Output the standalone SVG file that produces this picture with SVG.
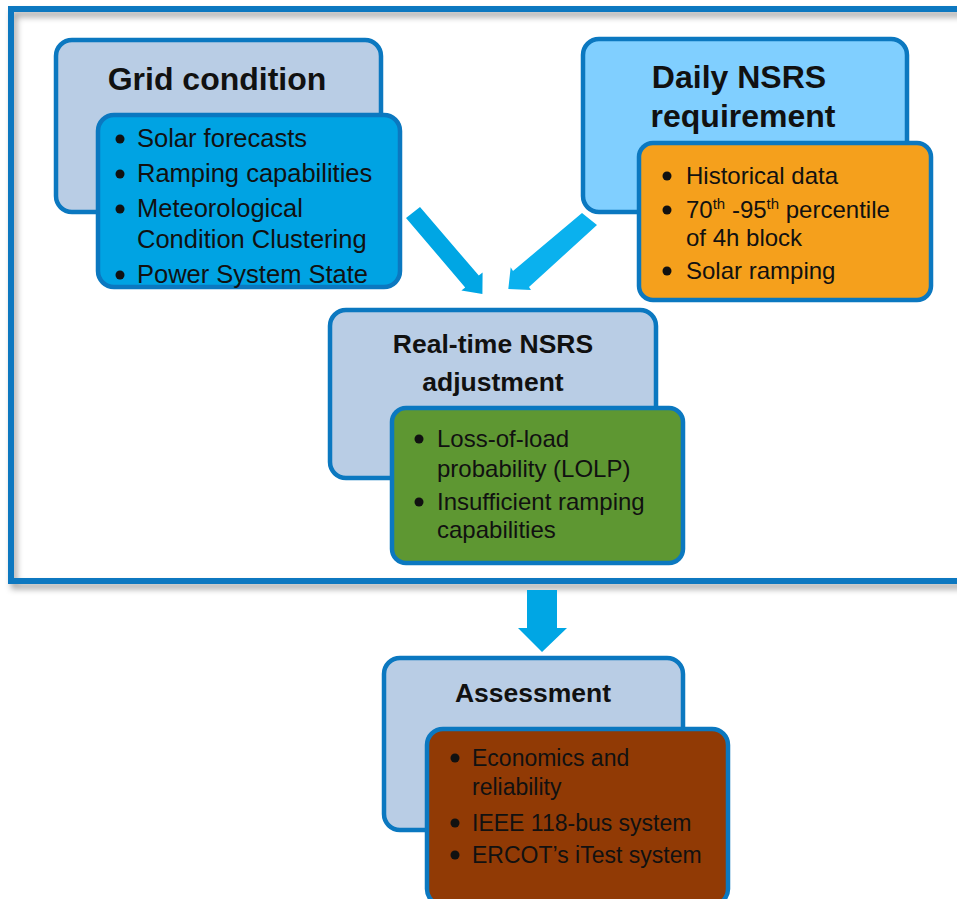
<svg xmlns="http://www.w3.org/2000/svg" width="957" height="899" viewBox="0 0 957 899">
<defs>
<filter id="sh" x="-5%" y="-5%" width="115%" height="115%">
<feDropShadow dx="3" dy="5" stdDeviation="3" flood-color="#000" flood-opacity="0.35"/>
</filter>
<style>
.box{stroke:#0b78c0;stroke-width:4.5}
.outer{fill:#b9cde5}
.t{font-family:"Liberation Sans",Arial,sans-serif;font-weight:bold;fill:#111;text-anchor:middle}
.b{font-family:"Liberation Sans",Arial,sans-serif;fill:#111;font-size:24px}
.dot{fill:#111}
.arr{fill:#00a6e4}
</style>
</defs>
<rect width="957" height="899" fill="#fff"/>
<rect x="11" y="9" width="965" height="572" fill="none" stroke="#0b78c0" stroke-width="6" filter="url(#sh)"/>
<g id="connectors">
<polygon class="arr" points="406,218 420,207 478.8,275.6 482.6,272.4 482.4,294 461.4,290.6 465.2,287.4"/>
<polygon class="arr" style="fill:#0ab1ee" points="582,213 597,225 529,287 531,290 508.3,289 510.7,267.3 513,271"/>
<polygon class="arr" points="527,590 557,590 557,628 567,628 542,652 518,628 527,628"/>
</g>
<g id="grid">
<rect class="box outer" x="56" y="40" width="325" height="172" rx="16"/>
<text class="t" x="217" y="90" font-size="32">Grid condition</text>
<rect class="box" fill="#00a3e3" x="98" y="115" width="302" height="172" rx="16"/>
<g class="b" style="font-size:25.5px">
<text x="137" y="147">Solar forecasts</text>
<text x="137" y="182">Ramping capabilities</text>
<text x="137" y="217">Meteorological</text>
<text x="137" y="248">Condition Clustering</text>
<text x="137" y="283">Power System State</text>
</g>
<circle class="dot" cx="120" cy="139" r="4.5"/>
<circle class="dot" cx="120" cy="174" r="4.5"/>
<circle class="dot" cx="120" cy="209" r="4.5"/>
<circle class="dot" cx="120" cy="275" r="4.5"/>
</g>
<g id="daily">
<rect class="box" fill="#80cfff" x="583" y="39" width="324" height="173" rx="16"/>
<text class="t" x="739" y="88" font-size="32">Daily NSRS</text>
<text class="t" x="743" y="127" font-size="32">requirement</text>
<rect class="box" fill="#f5a01c" x="639" y="143" width="292" height="157" rx="14"/>
<g class="b">
<text x="686" y="184">Historical data</text>
<text x="686" y="218">70<tspan font-size="15" dy="-9">th</tspan><tspan dy="9"> -95</tspan><tspan font-size="15" dy="-9">th</tspan><tspan dy="9"> percentile</tspan></text>
<text x="686" y="246">of 4h block</text>
<text x="686" y="279">Solar ramping</text>
</g>
<circle class="dot" cx="667" cy="176" r="4.5"/>
<circle class="dot" cx="667" cy="210" r="4.5"/>
<circle class="dot" cx="667" cy="271" r="4.5"/>
</g>
<g id="realtime">
<rect class="box outer" x="330" y="310" width="326" height="168" rx="16"/>
<text class="t" x="493" y="353" font-size="26.5">Real-time NSRS</text>
<text class="t" x="493" y="391" font-size="26.5">adjustment</text>
<rect class="box" fill="#5e9732" x="392" y="408" width="291" height="155" rx="14"/>
<g class="b">
<text x="437" y="447">Loss-of-load</text>
<text x="437" y="477">probability (LOLP)</text>
<text x="437" y="510">Insufficient ramping</text>
<text x="437" y="538">capabilities</text>
</g>
<circle class="dot" cx="419" cy="439" r="4.5"/>
<circle class="dot" cx="419" cy="502" r="4.5"/>
</g>
<g id="assessment">
<rect class="box outer" x="384" y="658" width="299" height="172" rx="16"/>
<text class="t" x="533" y="702" font-size="26.5">Assessment</text>
<rect class="box" fill="#913a05" x="427" y="729" width="301" height="176" rx="16"/>
<g class="b" style="font-size:23px">
<text x="472" y="766">Economics and</text>
<text x="472" y="795">reliability</text>
<text x="472" y="831">IEEE 118-bus system</text>
<text x="472" y="863">ERCOT’s iTest system</text>
</g>
<circle class="dot" cx="455" cy="758" r="4.5"/>
<circle class="dot" cx="455" cy="823" r="4.5"/>
<circle class="dot" cx="455" cy="855" r="4.5"/>
</g>
</svg>
